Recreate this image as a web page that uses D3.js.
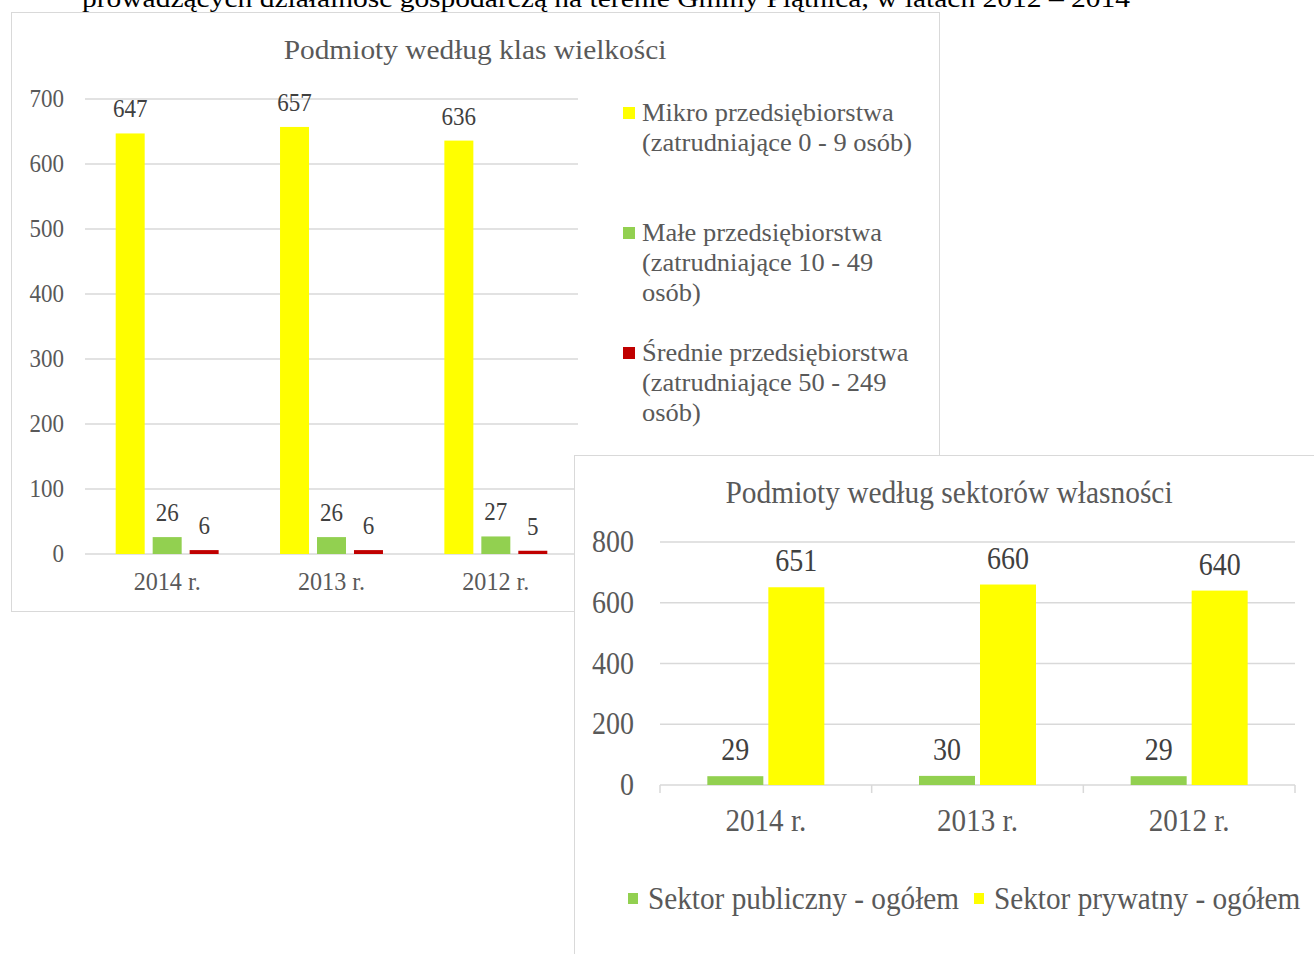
<!DOCTYPE html>
<html>
<head>
<meta charset="utf-8">
<script src="https://cdn.jsdelivr.net/npm/d3@7"></script>
<style>
  body { margin: 0; background: #fff; }
  svg { display: block; font-family: "Liberation Serif", "Times New Roman", serif; }
</style>
</head>
<body>
<script>
var W = 1314, H = 954;

// data, left chart
var years = ["2014 r.", "2013 r.", "2012 r."];
var sizeSeries = ["Mikro", "Male", "Srednie"];
var sizeLegend = [
  ["Mikro przedsiębiorstwa", "(zatrudniające 0 - 9 osób)"],
  ["Małe przedsiębiorstwa", "(zatrudniające 10 - 49", "osób)"],
  ["Średnie przedsiębiorstwa", "(zatrudniające 50 - 249", "osób)"]
];
var mikro = [647, 657, 636];
var male = [26, 26, 27];
var srednie = [6, 6, 5];
var sizeTicks = [0, 100, 200, 300, 400, 500, 600, 700];

// data, right chart
var sectorSeries = ["Sektor publiczny - ogółem", "Sektor prywatny - ogółem"];
var publiczny = [29, 30, 29];
var prywatny = [651, 660, 640];
var sectorTicks = [0, 200, 400, 600, 800];

var sizeColors = ["#ffff00", "#92d050", "#c00000"];
var sectorColors = ["#92d050", "#ffff00"];

var svg = d3.select("body").append("svg")
  .attr("width", W)
  .attr("height", H);

// clipped heading line of the page
svg.append("text")
  .attr("x", 82)
  .attr("y", 7)
  .attr("textLength", 1048)
  .attr("lengthAdjust", "spacingAndGlyphs")
  .attr("font-size", 25)
  .attr("fill", "#000")
  .text("prowadzących działalność gospodarczą na terenie Gminy Piątnica, w latach 2012 – 2014");

// text with a stretch, the source image was resized
function stext(g, x, y, sx, sy, str) {
  return g.append("text")
    .attr("transform", "translate(" + x + "," + y + ") scale(" + sx + "," + sy + ")")
    .text(str);
}

// ---------- left chart ----------
var left = svg.append("g");
left.append("rect")
  .attr("x", 11.5).attr("y", 12.5)
  .attr("width", 928).attr("height", 599)
  .attr("fill", "#fff")
  .attr("stroke", "#d9d9d9");

var ly = d3.scaleLinear().domain([0, 700]).range([554, 99]);
var lx = d3.scaleBand().domain(years).range([85, 578]);
var lx1 = d3.scaleBand().domain(sizeSeries).range([0, lx.bandwidth()])
  .paddingInner(0.216).paddingOuter(0.83);

var sizeData = [mikro, male, srednie];

left.selectAll("line.grid")
  .data(sizeTicks)
  .enter().append("line")
  .attr("class", "grid")
  .attr("x1", 85).attr("x2", 578)
  .attr("y1", function(d) { return ly(d); })
  .attr("y2", function(d) { return ly(d); })
  .attr("stroke", "#d9d9d9")
  .attr("stroke-width", 1.5);

var lt = left.append("g")
  .attr("fill", "#595959")
  .attr("font-size", 23)
  .attr("text-anchor", "end");
sizeTicks.forEach(function(t) {
  stext(lt, 64, ly(t) + 8, 1, 1.07, t);
});

var lc = left.append("g")
  .attr("fill", "#595959")
  .attr("font-size", 23)
  .attr("text-anchor", "middle");
years.forEach(function(y) {
  stext(lc, lx(y) + lx.bandwidth() / 2, 590, 1.05, 1.07, y);
});

sizeSeries.forEach(function(s, si) {
  var g = left.append("g");
  g.selectAll("rect")
    .data(sizeData[si])
    .enter().append("rect")
    .attr("x", function(d, i) { return lx(years[i]) + lx1(s); })
    .attr("y", function(d) { return ly(d); })
    .attr("width", lx1.bandwidth())
    .attr("height", function(d) { return ly(0) - ly(d); })
    .attr("fill", sizeColors[si]);
  var tg = g.append("g")
    .attr("fill", "#404040")
    .attr("font-size", 23)
    .attr("text-anchor", "middle");
  sizeData[si].forEach(function(d, i) {
    stext(tg, lx(years[i]) + lx1(s) + lx1.bandwidth() / 2, ly(d) - 16, 1, 1.07, d);
  });
});

stext(left, 475, 59, 1.13, 1.07, "Podmioty według klas wielkości")
  .attr("font-size", 26)
  .attr("fill", "#595959")
  .attr("text-anchor", "middle");

var legTop = [113, 233, 353];
sizeLegend.forEach(function(lines, i) {
  left.append("rect")
    .attr("x", 623).attr("y", legTop[i] - 6)
    .attr("width", 12).attr("height", 12)
    .attr("fill", sizeColors[i]);
  var tg = left.append("g")
    .attr("fill", "#595959")
    .attr("font-size", 23);
  lines.forEach(function(l, j) {
    stext(tg, 642, legTop[i] + 8 + j * 30, 1.15, 1.07, l);
  });
});

// ---------- right chart ----------
var right = svg.append("g");
right.append("rect")
  .attr("x", 574.5).attr("y", 455.5)
  .attr("width", 800).attr("height", 600)
  .attr("fill", "#fff")
  .attr("stroke", "#d9d9d9");

var ry = d3.scaleLinear().domain([0, 800]).range([785, 542]);
var rx = d3.scaleBand().domain(years).range([660, 1295]);
var rx1 = d3.scaleBand().domain(sectorSeries).range([0, rx.bandwidth()])
  .paddingInner(0.082).paddingOuter(0.776);

var sectorData = [publiczny, prywatny];

right.selectAll("line.grid")
  .data(sectorTicks.slice(1))
  .enter().append("line")
  .attr("class", "grid")
  .attr("x1", 660).attr("x2", 1295)
  .attr("y1", function(d) { return ry(d); })
  .attr("y2", function(d) { return ry(d); })
  .attr("stroke", "#d9d9d9")
  .attr("stroke-width", 1.5);

// category axis with ticks between the groups
var xAxis = right.append("g")
  .attr("transform", "translate(0," + ry(0) + ")");
xAxis.append("line")
  .attr("x1", 660).attr("x2", 1295)
  .attr("stroke", "#d9d9d9").attr("stroke-width", 1.5);
xAxis.selectAll("line.tk")
  .data(years.concat(["end"]))
  .enter().append("line")
  .attr("class", "tk")
  .attr("x1", function(d) { return d === "end" ? rx.range()[1] : rx(d); })
  .attr("x2", function(d) { return d === "end" ? rx.range()[1] : rx(d); })
  .attr("y1", 0).attr("y2", 8)
  .attr("stroke", "#d9d9d9").attr("stroke-width", 1.5);

var rt = right.append("g")
  .attr("fill", "#595959")
  .attr("font-size", 28)
  .attr("text-anchor", "end");
sectorTicks.forEach(function(t) {
  stext(rt, 634, ry(t) + 10, 1, 1.15, t);
});

var rc = right.append("g")
  .attr("fill", "#595959")
  .attr("font-size", 28)
  .attr("text-anchor", "middle");
years.forEach(function(y) {
  stext(rc, rx(y) + rx.bandwidth() / 2, 831, 1.04, 1.15, y);
});

sectorSeries.forEach(function(s, si) {
  var g = right.append("g");
  g.selectAll("rect")
    .data(sectorData[si])
    .enter().append("rect")
    .attr("x", function(d, i) { return rx(years[i]) + rx1(s); })
    .attr("y", function(d) { return ry(d); })
    .attr("width", rx1.bandwidth())
    .attr("height", function(d) { return ry(0) - ry(d); })
    .attr("fill", sectorColors[si]);
  var tg = g.append("g")
    .attr("fill", "#404040")
    .attr("font-size", 28)
    .attr("text-anchor", "middle");
  sectorData[si].forEach(function(d, i) {
    stext(tg, rx(years[i]) + rx1(s) + rx1.bandwidth() / 2, ry(d) - 16, 1, 1.15, d);
  });
});

stext(right, 949, 503, 1.09, 1.15, "Podmioty według sektorów własności")
  .attr("font-size", 27)
  .attr("fill", "#595959")
  .attr("text-anchor", "middle");

var legX = [628, 974];
sectorSeries.forEach(function(s, i) {
  right.append("rect")
    .attr("x", legX[i]).attr("y", 893)
    .attr("width", 10).attr("height", 11)
    .attr("fill", sectorColors[i]);
  stext(right, legX[i] + 20, 909, 1.045, 1.15, s)
    .attr("font-size", 28)
    .attr("fill", "#595959");
});
</script>
</body>
</html>
